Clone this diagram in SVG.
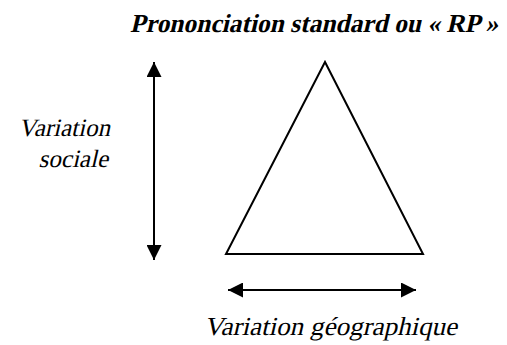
<svg xmlns="http://www.w3.org/2000/svg" width="507" height="345" viewBox="0 0 507 345">
<style>
.ln{stroke:#000;stroke-width:2;fill:none}
</style>
<defs>
<marker id="ah" viewBox="0 0 10 10" refX="10" refY="5" markerWidth="7.5" markerHeight="7.5" markerUnits="strokeWidth" orient="auto-start-reverse">
<path d="M0,0 L10,5 L0,10 z" fill="#000"/>
</marker>
</defs>
<rect width="507" height="345" fill="#fff"/>
<g id="title"><g transform="translate(130,32) skewX(-13)"><text font-family="Liberation Serif" font-weight="bold" fill="#000" x="0" y="0" font-size="26" textLength="368" lengthAdjust="spacingAndGlyphs">Prononciation standard ou « RP »</text></g></g>
<g id="triangle"><polygon class="ln" points="325,62 226,254 423,254"/></g>
<g id="social-label">
<g transform="translate(110,136) skewX(-13)"><text font-family="Liberation Serif" fill="#000" x="0" y="0" font-size="25" text-anchor="end">Variation</text></g>
<g transform="translate(108,167) skewX(-13)"><text font-family="Liberation Serif" fill="#000" x="0" y="0" font-size="25" text-anchor="end">sociale</text></g>
</g>
<g id="geo-label"><g transform="translate(204,335) skewX(-13)"><text font-family="Liberation Serif" fill="#000" x="0" y="0" font-size="26" textLength="253" lengthAdjust="spacingAndGlyphs">Variation géographique</text></g></g>
<g id="connectors">
<line class="ln" x1="154" y1="62" x2="154" y2="260" marker-start="url(#ah)" marker-end="url(#ah)"/>
<line class="ln" x1="228" y1="290" x2="416" y2="290" marker-start="url(#ah)" marker-end="url(#ah)"/>
</g>
</svg>
